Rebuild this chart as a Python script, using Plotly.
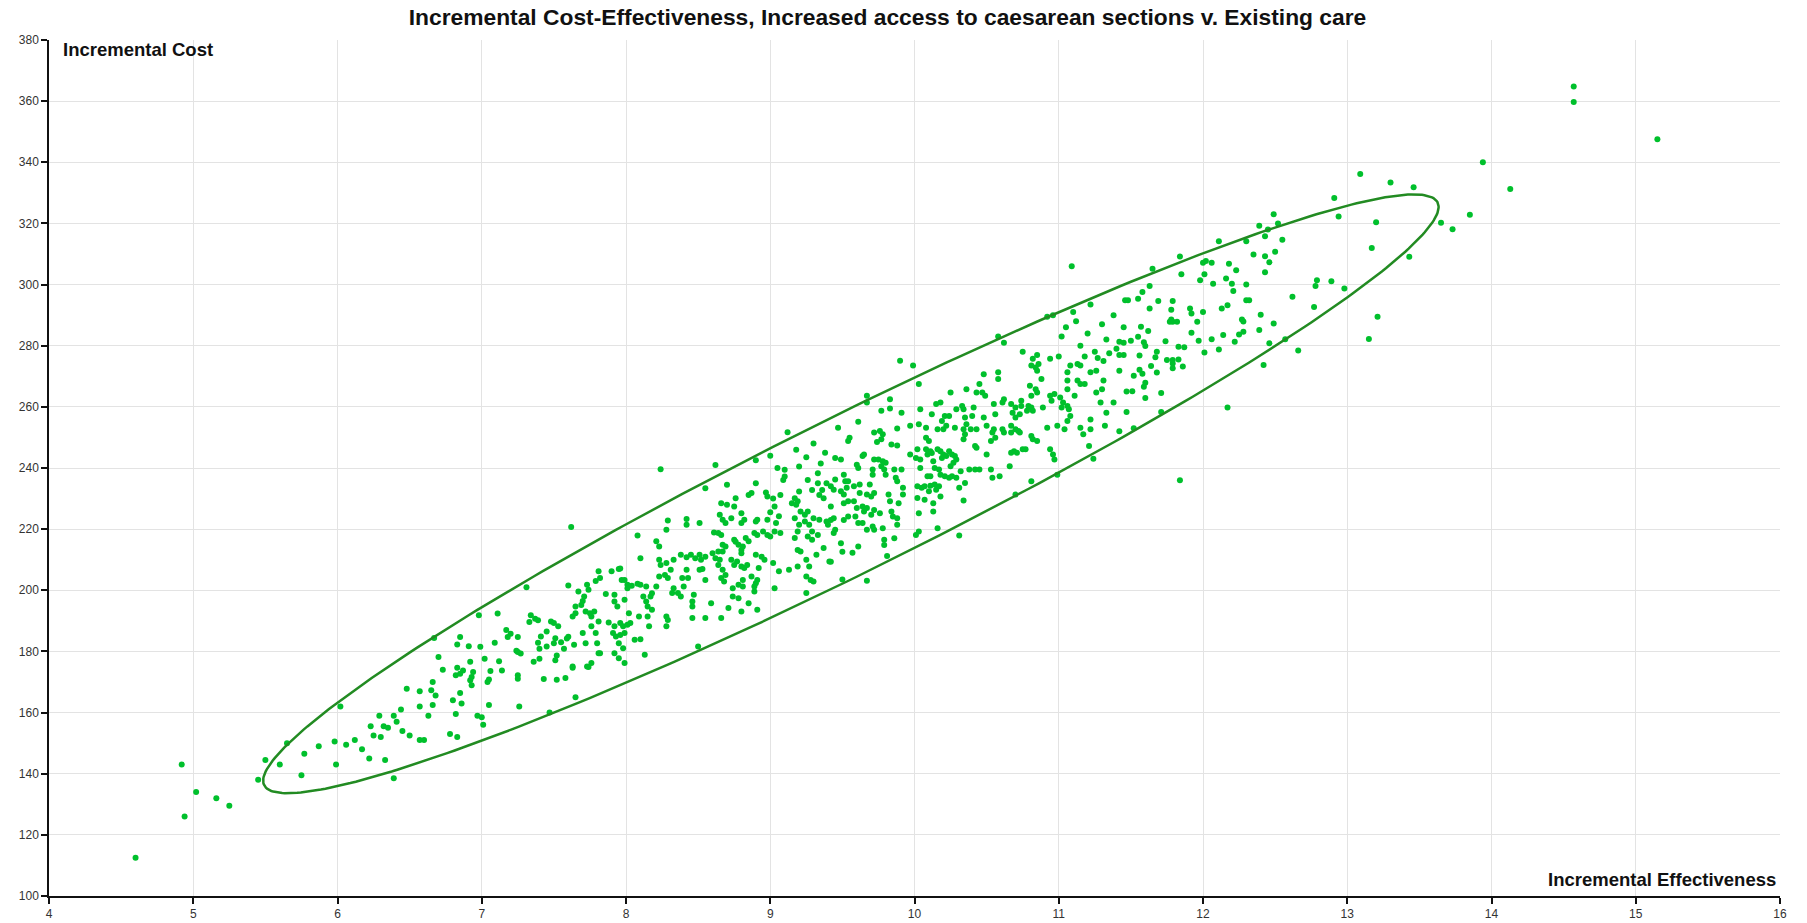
import numpy as np
import plotly.graph_objects as go

# ---- data (Incremental Effectiveness, Incremental Cost) ----
pts_tail_low = [
    (4.6, 112.5), (4.92, 143), (4.94, 126), (5.02, 134), (5.16, 132), (5.25, 129.5),
    (5.45, 138), (5.5, 144.5), (5.6, 143), (5.65, 150), (5.75, 139.5), (5.77, 146.5),
    (5.87, 149), (5.98, 150.5), (5.99, 143), (6.06, 149.5), (6.12, 151), (6.17, 148),
    (6.22, 145), (6.23, 155.5), (6.25, 152.5), (6.29, 159), (6.3, 152), (6.32, 155.5),
    (6.33, 144.5), (6.35, 155), (6.39, 138.5), (6.39, 159), (6.41, 157), (6.44, 161),
    (6.45, 154), (6.5, 152.5), (6.57, 162), (6.57, 151), (6.6, 151), (6.63, 159),
    (6.66, 162.5), (6.78, 153), (6.8, 164), (6.82, 159.5), (6.83, 152), (6.86, 163),
    (6.97, 159), (7.0, 158.5), (7.01, 156), (7.05, 162.5), (6.02, 162),
]

pts_6_to_7 = [
    (7.31, 201), (6.98, 191.8), (7.11, 192.4), (7.34, 191.8), (7.37, 190.7), (7.39, 190.2),
    (7.33, 189.6), (7.17, 187), (7.20, 185.8), (7.18, 184.7), (7.25, 184.7), (6.85, 184.7),
    (6.83, 182.3), (6.91, 181.7), (6.99, 181.5), (7.09, 182.8), (7.39, 182.8), (7.40, 180.9),
    (7.25, 179.8), (7.27, 179.3), (7.24, 180.2), (7.36, 176.6), (7.40, 177.6), (6.70, 178.2),
    (7.02, 177.6), (7.12, 176.8), (6.92, 176.6), (6.73, 174), (6.83, 174.7), (6.87, 173.8),
    (6.85, 172.7), (6.82, 172.2), (6.94, 173.3), (6.93, 171.6), (6.92, 170.6), (6.93, 168.9),
    (7.06, 173.6), (7.05, 170.8), (7.04, 170), (7.14, 173.8), (7.25, 172.2), (7.25, 171.1),
    (6.66, 170), (6.65, 167.3), (6.68, 165.6), (6.48, 167.8), (6.57, 167), (6.85, 166.4),
    (7.26, 162), (6.67, 184.4), (7.52, 178.7), (7.51, 177.1), (7.57, 180.9), (7.63, 174.7),
    (7.74, 174.9), (7.59, 184.2), (7.55, 183), (7.47, 160),
]

pts_7_to_8 = [
    (7.62, 220.7), (7.60, 201.6), (7.67, 199.6), (7.71, 198), (7.70, 196.5), (7.73, 201.8),
    (7.74, 200.2), (7.81, 206.2), (7.82, 204), (7.79, 203), (7.90, 206.2), (7.95, 207),
    (7.96, 207.1), (7.97, 203.4), (7.99, 203.4), (8.01, 201.8), (8.04, 201.5), (8.08, 202.1),
    (8.10, 201.8), (8.14, 201.2), (8.01, 200.7), (7.86, 198.8), (7.92, 198.5), (7.92, 196.3),
    (7.94, 194.7), (7.99, 196.9), (7.65, 194.7), (7.69, 195.2), (7.72, 193.1), (7.75, 192.5),
    (7.78, 193.1), (7.76, 191.4), (7.63, 191.4), (7.65, 192.5), (7.76, 188.2), (7.81, 189.8),
    (7.88, 189.5), (7.92, 188.2), (7.96, 189.3), (7.98, 188.2), (8.01, 188.7), (8.03, 189.3),
    (8.02, 192.5), (8.09, 191.4), (7.50, 189.3), (7.48, 189.8), (7.45, 186.5), (7.53, 188.2),
    (7.51, 184.3), (7.50, 182.7), (7.60, 184.8), (7.64, 182.2), (7.70, 186), (7.72, 182.7),
    (7.79, 186), (7.80, 182.7), (7.82, 179.4), (7.81, 179.4), (7.92, 179.4), (7.91, 186),
    (7.93, 184.9), (7.96, 185.4), (7.99, 186), (8.06, 183.8), (8.10, 184), (7.95, 182.7),
    (7.98, 181), (7.95, 177.8), (7.99, 176.2), (7.76, 176.2), (7.73, 175.1), (7.63, 175.1),
    (7.52, 170.7), (7.58, 171.3), (7.43, 171), (7.65, 165), (7.45, 181.6), (7.41, 184.9),
    (8.13, 178.9), (8.50, 181.6),
]

pts_8_to_9 = [
    (8.08, 217.9), (8.10, 210.5), (8.21, 216), (8.23, 214.3), (8.29, 222.8), (8.28, 219.8),
    (8.23, 210), (8.24, 208.3), (8.28, 208.9), (8.33, 210), (8.31, 206.7), (8.23, 204.5),
    (8.27, 205), (8.29, 204), (8.21, 201.2), (8.17, 198), (8.18, 199), (8.14, 196.3),
    (8.15, 194.7), (8.18, 193.6), (8.15, 191.4), (8.16, 188.2), (8.28, 191.4), (8.29, 190.3),
    (8.28, 188.2), (8.12, 198), (8.33, 200.7), (8.32, 199.1), (8.36, 199.1), (8.38, 198),
    (8.40, 201.2), (8.42, 206.7), (8.39, 204), (8.43, 204), (8.38, 211.6), (8.42, 210.8),
    (8.45, 211.6), (8.48, 210.5), (8.51, 211.6), (8.52, 210), (8.55, 211), (8.51, 206.7),
    (8.53, 207), (8.42, 223.3), (8.42, 221.4), (8.51, 222), (8.55, 233.4), (8.46, 196.3),
    (8.47, 198.5), (8.46, 194.7), (8.55, 190.9), (8.46, 190.9), (8.59, 195.8), (8.55, 203.4),
    (8.61, 218.9), (8.64, 218.7), (8.66, 218.1), (8.60, 212.1), (8.64, 212.7), (8.62, 210.5),
    (8.65, 210), (8.64, 208.3), (8.67, 206.7), (8.66, 204), (8.69, 205), (8.68, 202.9),
    (8.67, 214.9), (8.69, 214.3), (8.66, 190.9), (8.71, 194.2), (8.74, 198), (8.74, 200.7),
    (8.73, 210), (8.75, 208.3), (8.77, 209.4), (8.80, 207.8), (8.82, 207.3), (8.84, 208.3),
    (8.81, 203.4), (8.78, 201.8), (8.81, 201.2), (8.78, 197.4), (8.80, 193.1), (8.85, 195.8),
    (8.91, 193.6), (8.89, 201.2), (8.90, 202.3), (8.91, 203.4), (8.89, 199.6), (8.87, 204.5),
    (8.92, 207.3), (8.90, 211.6), (8.94, 211), (8.96, 210), (9.02, 208.9), (9.03, 200.7),
    (9.06, 206.2), (8.67, 212.7), (8.75, 216.5), (8.76, 215.9), (8.80, 212.1), (8.80, 213.2),
    (8.78, 214.9), (8.81, 214.3), (8.83, 217.1), (8.85, 216), (8.89, 218.7), (8.91, 218.1),
    (8.95, 219.2), (8.98, 218.1), (9.00, 217.6), (9.03, 219.2), (8.69, 222), (8.73, 223.6),
    (8.76, 230.1), (8.75, 227.4), (8.70, 228), (8.66, 228.5), (8.65, 224.7), (8.67, 223.1),
    (8.80, 225.2), (8.80, 222), (8.82, 223.1), (8.91, 223.1), (8.70, 234.5), (8.90, 235),
    (8.87, 231.8), (8.85, 231.2), (8.97, 232), (8.98, 230.7), (9.00, 225.5), (8.98, 223.1),
    (9.04, 222), (9.02, 230), (9.07, 231.2), (8.90, 222.5),
    (8.24, 239.6), (8.62, 241), (8.9, 242.5), (9.0, 244), (9.12, 251.7), (9.18, 246),
    (9.25, 243.5), (9.3, 248), (9.35, 241.5), (9.38, 245), (9.2, 240.5), (9.05, 240),
]

pts_9_to_9_4 = [
    (9.09, 236.1), (9.10, 237.2), (9.10, 239.4), (9.20, 232.3), (9.19, 229.1), (9.15, 228.5),
    (9.18, 228), (9.21, 225.8), (9.17, 223.6), (9.20, 221.4), (9.19, 219.2), (9.24, 222.5),
    (9.24, 224.7), (9.26, 225.8), (9.27, 221.4), (9.29, 219.2), (9.26, 217.6), (9.29, 216.5),
    (9.33, 218.1), (9.30, 223.6), (9.34, 223.1), (9.39, 222.5), (9.40, 221.4), (9.19, 213.2),
    (9.21, 212.7), (9.25, 210), (9.27, 207.8), (9.32, 211.6), (9.37, 213.8), (9.41, 209.4),
    (9.17, 217.1), (9.25, 204.5), (9.28, 203.4), (9.30, 202.9), (9.25, 199.1), (9.13, 206.7),
    (9.19, 207.8), (9.26, 236.1), (9.33, 238.3), (9.33, 235), (9.29, 232.8), (9.36, 232.8),
    (9.34, 231.2), (9.37, 230.1), (9.39, 235), (9.07, 218.7), (9.06, 224.2), (9.03, 227.4),
    (9.17, 230.1),
]

pts_9_4_to_10 = [
    (9.67, 263.6), (9.67, 261.4), (9.83, 262.5), (9.83, 259.5), (9.77, 258.7), (9.91, 258.1),
    (9.61, 255.1), (9.47, 253.2), (9.55, 249.9), (9.54, 248.8), (9.72, 251.6), (9.76, 252.1),
    (9.78, 251), (9.77, 249.4), (9.74, 248.5), (9.84, 247.7), (9.88, 247.4), (9.88, 252.9),
    (9.97, 253.8), (9.45, 243.3), (9.49, 242.8), (9.64, 243.9), (9.65, 244.4), (9.60, 241.1),
    (9.61, 240), (9.72, 242.8), (9.75, 242.8), (9.78, 242.2), (9.80, 241.7), (9.77, 240.6),
    (9.79, 239.5), (9.80, 237.8), (9.71, 239.5), (9.71, 237.8), (9.86, 239.5), (9.91, 239.5),
    (9.87, 236.8), (9.88, 235.7), (9.97, 244.4), (9.51, 237.8), (9.52, 235.7), (9.45, 236.2),
    (9.42, 234), (9.44, 232.9), (9.49, 232.4), (9.54, 235.7), (9.53, 233.5), (9.58, 234),
    (9.62, 234.6), (9.69, 234.6), (9.62, 231.8), (9.67, 231.3), (9.70, 230.7), (9.72, 231.8),
    (9.51, 231.3), (9.51, 228.5), (9.54, 229.1), (9.58, 229.1), (9.60, 226.9), (9.64, 227.4),
    (9.65, 225.8), (9.67, 226.9), (9.70, 224.7), (9.72, 226.3), (9.76, 225.2), (9.59, 224.1),
    (9.54, 224.1), (9.51, 223), (9.44, 223.6), (9.42, 227.4), (9.42, 223), (9.45, 219.8),
    (9.61, 222), (9.64, 222), (9.67, 219.8), (9.71, 220.9), (9.72, 219.8), (9.78, 220.3),
    (9.79, 216.5), (9.79, 214.8), (9.82, 231.3), (9.83, 229.1), (9.84, 225.8), (9.85, 224.1),
    (9.88, 223.6), (9.88, 221.4), (9.86, 217), (9.92, 233.5), (9.92, 231.3), (9.89, 228.5),
    (9.49, 215.4), (9.50, 212.6), (9.57, 212.3), (9.61, 214.3), (9.81, 211.2), (9.50, 203.5),
    (9.67, 203.1), (9.42, 209.3), (9.44, 218.7), (9.90, 275.1), (9.99, 273.5),
]

pts_10_to_11 = [
    (10.03, 267.5), (10.25, 264.7), (10.36, 265.8), (10.43, 264.7), (10.47, 264.7),
    (10.45, 267.5), (10.48, 270.7), (10.58, 271.3), (10.58, 269.1), (10.49, 263.6),
    (10.04, 259.2), (10.12, 257.6), (10.15, 260.9), (10.18, 261.4), (10.21, 257), (10.24, 257),
    (10.19, 255.4), (10.29, 259.2), (10.33, 260.3), (10.34, 259.2), (10.41, 259.8), (10.40, 257),
    (10.35, 256.5), (10.48, 256.5), (10.55, 260.9), (10.62, 262.5), (10.61, 261.4),
    (10.67, 260.9), (10.70, 259.8), (10.74, 262), (10.74, 260.3), (10.79, 260.3), (10.81, 259.8),
    (10.82, 258.7), (10.78, 258.7), (10.68, 258.1), (10.70, 256.5), (10.73, 257.6),
    (10.56, 257.6), (10.55, 252.7), (10.54, 251.6), (10.61, 252.7), (10.62, 251.6),
    (10.56, 249.9), (10.53, 248.8), (10.67, 253.8), (10.70, 252.7), (10.72, 252.1),
    (10.73, 251.6), (10.67, 251.6), (10.81, 250.5), (10.82, 249.4), (10.85, 248.8),
    (10.89, 259.8), (10.92, 253.2), (10.94, 246.1), (10.96, 244.4), (10.97, 242.8),
    (10.99, 237.8), (10.77, 246.1), (10.69, 245.5), (10.67, 245), (10.50, 244.4), (10.66, 240.6),
    (10.03, 254.3), (10.08, 253.2), (10.08, 249.9), (10.10, 248.8), (10.16, 252.7), (10.20, 252.7),
    (10.22, 253.8), (10.28, 253.2), (10.34, 252.7), (10.36, 254.3), (10.39, 252.7), (10.43, 252.7),
    (10.42, 247.2), (10.43, 246.6), (10.34, 249.4), (10.35, 251), (10.02, 246.1), (10.01, 243.3),
    (10.04, 242.8), (10.08, 246.1), (10.09, 244.4), (10.11, 245.5), (10.12, 244.9), (10.16, 246.1),
    (10.18, 245.5), (10.19, 243.3), (10.20, 244.4), (10.22, 243.9), (10.24, 245.5), (10.26, 244.4),
    (10.28, 243.9), (10.29, 242.8), (10.27, 241.7), (10.25, 240.6), (10.13, 242.2), (10.14, 240),
    (10.17, 239.5), (10.18, 237.8), (10.21, 237.3), (10.24, 236.8), (10.26, 237.3), (10.29, 236.8),
    (10.32, 238.9), (10.04, 240), (10.09, 237.3), (10.11, 237.3), (10.02, 234), (10.05, 233.5),
    (10.07, 234), (10.11, 234.2), (10.14, 234.6), (10.17, 234), (10.15, 232.9), (10.10, 232.4),
    (10.18, 230.7), (10.02, 230.2), (10.07, 229.6), (10.13, 228.5), (10.13, 225.8), (10.03, 225.2),
    (10.16, 220.3), (10.03, 219.2), (10.01, 218.1), (10.31, 233.5), (10.35, 235.1), (10.34, 229.4),
    (10.31, 217.9), (10.38, 239.5), (10.42, 239.5), (10.45, 239.5), (10.53, 239.5), (10.54, 236.8),
    (10.59, 237.3), (10.50, 253.8), (10.81, 235.7), (10.70, 231.3), (10.71, 245), (10.75, 246.1),
]

pts_10_8_to_11_4 = [
    (10.82, 275.7), (10.81, 273.5), (10.84, 272.9), (10.86, 274), (10.85, 271.8), (10.88, 269.1),
    (10.80, 266.9), (10.84, 265.8), (10.85, 264.7), (10.81, 263.6), (10.94, 263.6), (10.95, 262),
    (10.97, 264.2), (11.01, 263.1), (11.03, 261.4), (11.02, 259.8), (11.06, 260.3), (11.07, 259.2),
    (11.08, 257), (11.06, 255.4), (11.04, 252.7), (10.99, 253.8), (11.06, 271.3), (11.08, 273.5),
    (11.13, 274), (11.15, 273.5), (11.13, 268.6), (11.15, 267.5), (11.06, 268.6), (11.06, 265.8),
    (11.11, 263.6), (11.18, 267.5), (11.22, 271.3), (11.26, 271.8), (11.31, 268.6), (11.30, 265.8),
    (11.26, 264.7), (11.29, 261.4), (11.33, 258.1), (11.38, 261.4), (11.42, 271.8), (11.15, 253.2),
    (11.17, 251), (11.22, 255.9), (11.22, 252.7), (11.32, 253.8), (11.21, 247.2), (11.24, 243),
    (11.31, 275), (10.94, 275.7),
    (10.58, 283), (10.62, 281), (10.75, 278), (10.85, 277), (10.92, 289.5), (10.96, 290),
    (11.02, 283), (11.05, 286), (11.1, 291), (11.12, 288), (11.15, 280), (11.2, 284),
    (11.22, 293.5), (11.25, 278), (11.3, 287), (11.33, 282), (11.38, 290), (11.4, 279),
    (11.09, 306), (11.18, 276.5), (11.27, 276), (11.35, 277.5), (11.0, 276.5),
]

pts_11_4_to_13 = [
    (11.84, 309.2), (11.65, 305.2), (11.85, 303.4), (12.0, 307.1), (12.02, 307.7), (12.06, 307.1),
    (12.01, 303.4), (11.98, 301.4), (12.07, 300.3), (12.18, 306.8), (12.23, 304.7), (12.16, 302),
    (12.20, 300.3), (12.21, 297.9), (12.30, 300), (12.35, 309.8), (12.43, 309.3), (12.46, 307.3),
    (12.43, 304), (12.50, 310.7), (12.30, 294.9), (12.32, 294.9), (12.13, 292.2), (12.17, 293.2),
    (12.0, 291), (12.27, 288.6), (12.28, 287.9), (12.40, 290.1), (12.39, 285.1), (12.49, 287.3),
    (12.28, 284.6), (12.25, 283.7), (12.22, 281.3), (12.14, 283.5), (12.06, 282.1), (12.11, 278.8),
    (12.01, 277.8), (12.42, 273.7), (12.46, 280.8), (12.57, 282.1), (12.66, 278.4), (12.62, 296),
    (12.77, 292.7), (12.78, 299.5), (12.79, 301.4), (12.89, 301.1), (12.98, 298.7), (13.21, 289.5),
    (13.15, 282.2), (12.17, 259.8), (11.84, 236),
    (11.46, 294.9), (11.48, 294.9), (11.55, 295.4), (11.58, 297.6), (11.63, 299.5), (11.69, 294.6),
    (11.79, 294.6), (11.78, 291.8), (11.63, 292.2), (11.91, 292.2), (11.92, 290.5), (11.77, 287.8),
    (11.79, 287.8), (11.82, 287.8), (11.78, 288.6), (11.96, 287.8), (11.45, 286), (11.57, 286.2),
    (11.62, 284.8), (11.55, 282.9), (11.50, 281.6), (11.45, 281), (11.42, 281.3), (11.59, 281.1),
    (11.60, 279.9), (11.74, 281.5), (11.92, 284.2), (11.97, 281.6), (11.83, 279.7), (11.87, 279.5),
    (11.68, 278), (11.67, 276.2), (11.56, 276.8), (11.45, 277), (11.42, 277), (11.75, 275.3),
    (11.79, 275.3), (11.83, 275.5), (11.79, 274.2), (11.79, 272.6), (11.86, 273.2), (11.64, 273.4),
    (11.56, 272.1), (11.58, 270.8), (11.52, 270.2), (11.68, 271.2), (11.60, 267.9), (11.59, 266.6),
    (11.47, 265), (11.51, 265.1), (11.60, 262.9), (11.71, 264.5), (11.47, 258.3), (11.42, 252),
    (11.52, 253), (11.71, 258.3),
    (12.49, 323), (12.39, 319.2), (12.43, 315.8), (12.55, 314.7), (12.3, 314.2), (12.11, 314.2),
    (12.52, 320), (12.45, 318),
]

pts_tail_high = [
    (13.09, 336.2), (12.91, 328.3), (12.94, 322.3), (13.2, 320.4), (13.17, 312),
    (13.94, 340), (13.30, 333.4), (13.46, 331.8), (14.13, 331.3), (13.85, 322.8),
    (13.65, 320.2), (13.73, 318.1), (13.43, 309.1),
    (14.57, 364.8), (14.57, 359.7), (15.15, 347.5),
]

x_ticks = list(range(4, 17))
y_ticks = list(range(100, 381, 20))

title_text = "Incremental Cost-Effectiveness, Increased access to caesarean sections v. Existing care"
x_label = "Incremental Effectiveness"
y_label = "Incremental Cost"

# ---- assemble ----
all_pts = (pts_tail_low + pts_6_to_7 + pts_7_to_8 + pts_8_to_9 + pts_9_to_9_4 +
           pts_9_4_to_10 + pts_10_to_11 + pts_10_8_to_11_4 + pts_11_4_to_13 + pts_tail_high)
eff = np.array([p[0] for p in all_pts], dtype=float)
cost = np.array([p[1] for p in all_pts], dtype=float)

# confidence ellipse derived from the sample covariance
chi2_level = 5.36
mu = np.array([eff.mean(), cost.mean()])
cov = np.cov(np.vstack([eff, cost]))
vals, vecs = np.linalg.eigh(cov)
t = np.linspace(0, 2 * np.pi, 361)
circle = np.vstack([np.cos(t), np.sin(t)])
ell = vecs @ (np.sqrt(vals * chi2_level)[:, None] * circle) + mu[:, None]

FONT = "Arial, Liberation Sans, Helvetica, sans-serif"

fig = go.Figure()
fig.add_trace(go.Scatter(
    x=eff, y=cost, mode="markers",
    marker=dict(size=6, color="#00c02c", line=dict(width=0)),
    hoverinfo="x+y", showlegend=False,
))
fig.add_trace(go.Scatter(
    x=ell[0], y=ell[1], mode="lines",
    line=dict(color="#228b22", width=2.5),
    hoverinfo="skip", showlegend=False,
))

axis_common = dict(
    showgrid=True, gridcolor="#e3e3e3", gridwidth=1,
    zeroline=False, showline=True, linecolor="#111", linewidth=1.5,
    ticks="outside", ticklen=6, tickwidth=1.5, tickcolor="#111",
    tickfont=dict(family=FONT, size=12, color="#333"),
    automargin=False,
)

fig.update_layout(
    width=1807, height=923,
    margin=dict(l=49, r=27, t=40, b=27, autoexpand=False),
    paper_bgcolor="white", plot_bgcolor="white",
    title=dict(
        text="<b>" + title_text + "</b>",
        x=887.5 / 1807, xanchor="center", xref="container",
        y=1 - 17.5 / 923, yanchor="middle", yref="container",
        font=dict(family=FONT, size=22.8, color="#111"),
        automargin=False,
    ),
    xaxis=dict(range=[4, 16], tickvals=x_ticks, **axis_common),
    yaxis=dict(range=[100, 380], tickvals=y_ticks, **axis_common),
    annotations=[
        dict(text="<b>" + y_label + "</b>", xref="paper", yref="paper",
             x=0.007, y=0.9885, xanchor="left", yanchor="middle", showarrow=False,
             font=dict(family=FONT, size=18.5, color="#111")),
        dict(text="<b>" + x_label + "</b>", xref="paper", yref="paper",
             x=0.999, y=0.019, xanchor="right", yanchor="middle", showarrow=False,
             font=dict(family=FONT, size=18.5, color="#111")),
    ],
)

fig.write_html("out.html")
